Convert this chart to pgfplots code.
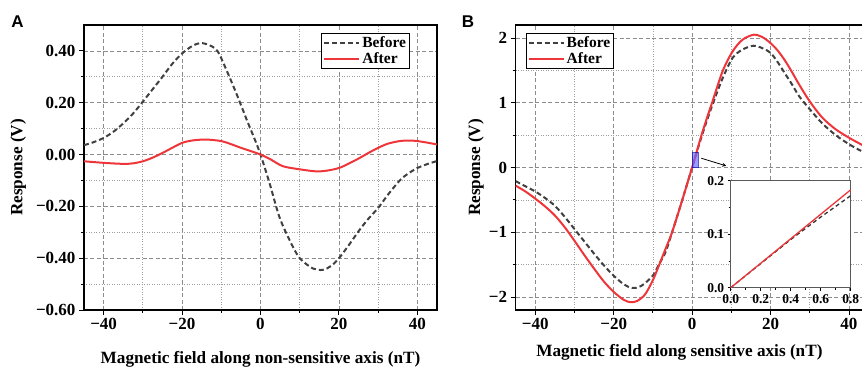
\documentclass[border=0pt]{standalone}
\usepackage{fontspec}
\setmainfont{Liberation Serif}
\newfontfamily\sansbf{Liberation Sans}
\usepackage{pgfplots}
\pgfplotsset{compat=1.18}
\definecolor{myred}{RGB}{238,54,58}
\definecolor{mygray}{RGB}{64,64,64}
\definecolor{gridgray}{RGB}{140,140,140}
\pgfplotsset{
 mainax/.style={
  scale only axis,
  width=353pt, height=285pt,
  axis line style={black, line width=1.1pt},
  tick align=outside,
  xtick pos=lower, ytick pos=left,
  major tick length=5pt, minor tick length=3pt,
  tick style={black, line width=0.9pt},
  grid=both,
  major grid style={gridgray, dash pattern=on 4pt off 2.5pt, line width=0.75pt},
  minor grid style={gridgray!85, dash pattern=on 1pt off 1.5pt, line width=0.75pt},
  ticklabel style={font=\fontsize{17}{20}\selectfont\bfseries},
  label style={font=\fontsize{17.2}{20}\selectfont\bfseries},
  legend style={draw=black, line width=1pt, font=\fontsize{15.5}{18}\selectfont\bfseries, inner sep=1.5pt, row sep=-0.5pt, cells={anchor=west}},
  legend image code/.code={\draw[#1] (0pt,0pt) -- (35pt,0pt);},
  xmin=-45, xmax=45,
  xtick={-40,-20,0,20,40},
  xticklabels={−40,−20,0,20,40},
  minor xtick={-30,-10,10,30},
 },
 before/.style={mygray, line width=2pt, dash pattern=on 5pt off 3pt, smooth},
 after/.style={myred, line width=2pt, smooth},
}
\begin{document}
\begin{tikzpicture}
\useasboundingbox (0,0) rectangle (862pt,367pt);
% Panel A
\begin{axis}[mainax,
  at={(84pt,57pt)}, anchor=south west,
  ymin=-0.6, ymax=0.5,
  ytick={-0.6,-0.4,-0.2,0,0.2,0.4},
  yticklabels={−0.60,−0.40,−0.20,0.00,0.20,0.40},
  minor ytick={-0.5,-0.3,-0.1,0.1,0.3},
  xlabel={Magnetic field along non-sensitive axis (nT)},
  ylabel={Response (V)},
  xlabel style={at={(axis description cs:0.5,-0.172)}, anchor=center},
  ylabel style={at={(axis description cs:-0.186,0.5)}, anchor=center},
  legend style={at={(axis description cs:0.9235,0.972)}, anchor=north east},
]
\addplot[before] coordinates {
(-45,0.036) (-42.5,0.048) (-40,0.064) (-37.5,0.088) (-35,0.12) (-32.5,0.158)
(-30,0.204) (-27.5,0.252) (-25,0.30) (-22.5,0.35) (-20,0.39) (-17.5,0.418)
(-15.5,0.43) (-13.5,0.425) (-11,0.40) (-8.5,0.32) (-6,0.23) (-3.4,0.13)
(-1.5,0.06) (0,0) (2.3,-0.11) (4.8,-0.24) (7.4,-0.33) (10,-0.40) (13.4,-0.44)
(15.9,-0.445) (18,-0.43) (20,-0.40) (22.5,-0.35) (25.3,-0.29) (27.5,-0.248)
(30,-0.206) (32.5,-0.155) (35.5,-0.10) (37.5,-0.075) (40,-0.052) (42.5,-0.037)
(45,-0.025)};
\addlegendentry{Before}
\addplot[after] coordinates {
(-45,-0.026) (-40,-0.032) (-35,-0.036) (-32.5,-0.034) (-30,-0.026) (-27.5,-0.012)
(-25,0.006) (-22.5,0.026) (-20,0.045) (-17.5,0.054) (-14,0.058) (-10,0.052)
(-7.5,0.04) (-5,0.026) (-2.8,0.015) (0,0) (2.5,-0.018) (5.7,-0.045) (10,-0.057)
(14.2,-0.065) (17,-0.062) (20,-0.052) (22.5,-0.035) (25.3,-0.013) (27.5,0.006)
(30,0.026) (32.5,0.042) (35.5,0.052) (38,0.054) (40,0.052) (42.5,0.046) (45,0.039)};
\addlegendentry{After}
\end{axis}
% Panel B
\begin{axis}[mainax,
  at={(515.6pt,57pt)}, anchor=south west,
  ymin=-2.2, ymax=2.2,
  ytick={-2,-1,0,1,2},
  yticklabels={−2,−1,0,1,2},
  minor ytick={-1.5,-0.5,0.5,1.5},
  xlabel={Magnetic field along sensitive axis (nT)},
  ylabel={Response (V)},
  xlabel style={at={(axis description cs:0.464,-0.149)}, anchor=center},
  ylabel style={at={(axis description cs:-0.112,0.5)}, anchor=center},
  legend style={at={(axis description cs:0.0286,0.972)}, anchor=north west},
]
\addplot[before] coordinates {
(-45,-0.21) (-42.5,-0.29) (-40,-0.37) (-37.5,-0.47) (-35,-0.59) (-32.5,-0.76)
(-30,-0.95) (-27.5,-1.14) (-25,-1.33) (-22.5,-1.51) (-20,-1.67) (-17.5,-1.80)
(-15.3,-1.86) (-13,-1.83) (-10,-1.67) (-8.5,-1.50) (-6.8,-1.31) (-5.1,-1.0)
(-2.5,-0.50) (0,0) (2.7,0.53) (5.2,0.97) (7.8,1.38) (10.3,1.69) (12.8,1.82)
(15.7,1.88) (18,1.84) (20,1.77) (21.9,1.62) (23.8,1.44) (25.5,1.28) (27.3,1.10)
(30,0.90) (33.2,0.68) (36.6,0.50) (40,0.36) (43,0.26) (45,0.22)};
\addlegendentry{Before}
\addplot[after] coordinates {
(-45,-0.28) (-42.5,-0.37) (-40,-0.48) (-37.5,-0.60) (-35,-0.74) (-32.5,-0.92)
(-30,-1.13) (-27.5,-1.35) (-25,-1.56) (-22.5,-1.76) (-20,-1.92) (-17.5,-2.04)
(-15.7,-2.08) (-14,-2.06) (-12,-1.96) (-10,-1.74) (-8.5,-1.52) (-6.8,-1.26)
(-5.1,-1.0) (-2.5,-0.50) (0,0) (2.7,0.56) (5.2,1.02) (7.8,1.49) (10.3,1.79)
(12.8,1.97) (15.7,2.05) (18,2.01) (20,1.92) (21.9,1.80) (23.8,1.64) (25.5,1.47)
(27.3,1.28) (30,1.02) (33.2,0.77) (36.6,0.59) (40,0.46) (43,0.36) (45,0.30)};
\addlegendentry{After}
\fill[blue!60!white, opacity=0.65, draw=blue!70!black, line width=0.4pt] (axis cs:0,0) rectangle (axis cs:1.6,0.23);
\draw[-stealth, line width=0.8pt] (axis cs:2.35,0.143) -- (axis cs:8.7,0.025);
\end{axis}
% Inset
\begin{axis}[
  scale only axis,
  at={(730.7pt,79.3pt)}, anchor=south west,
  width=120pt, height=107pt,
  axis background/.style={fill=white},
  axis line style={black!65, line width=1.5pt},
  xmin=0, xmax=0.8, ymin=0, ymax=0.2,
  xtick={0,0.2,0.4,0.6,0.8}, xticklabels={0.0,0.2,0.4,0.6,0.8},
  ytick={0,0.1,0.2}, yticklabels={0.0,0.1,0.2},
  minor xtick={0.1,0.3,0.5,0.7}, minor ytick={0.05,0.15},
  tick align=outside, xtick pos=lower, ytick pos=left,
  major tick length=3pt, minor tick length=2pt,
  tick style={black, line width=0.7pt},
  ticklabel style={font=\fontsize{13.5}{15}\selectfont\bfseries},
]
\addplot[black!80, line width=1.3pt, dash pattern=on 4pt off 3pt] coordinates {
(0,0) (0.2,0.045) (0.4,0.09) (0.6,0.132) (0.8,0.172)};
\addplot[myred, line width=1.3pt] coordinates {(0,0) (0.4,0.0915) (0.8,0.183)};
\end{axis}
\node[font=\sansbf\bfseries\fontsize{17}{19}\selectfont] at (17.5pt,345.5pt) {A};
\node[font=\sansbf\bfseries\fontsize{17}{19}\selectfont] at (468pt,345.8pt) {B};
\end{tikzpicture}
\end{document}
